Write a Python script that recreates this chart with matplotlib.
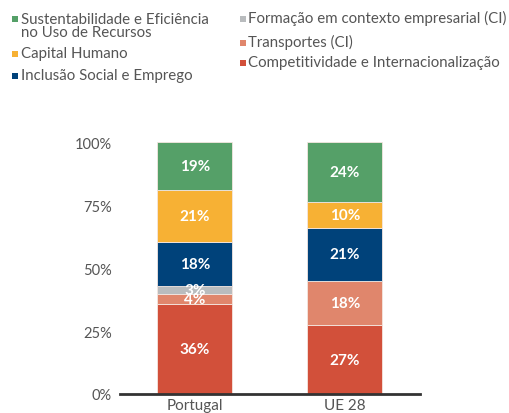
import numpy as np
import matplotlib.pyplot as plt
from matplotlib.patches import Rectangle

plt.rcParams['font.family'] = ['Lato', 'DejaVu Sans']

countries = ["Portugal", "UE 28"]
series = ["Competitividade e Internacionalização",
          "Transportes (CI)",
          "Formação em contexto empresarial (CI)",
          "Inclusão Social e Emprego",
          "Capital Humano",
          "Sustentabilidade e Eficiência\nno Uso de Recursos"]
colors = ["#D2503A", "#E0866C", "#B9BCBE", "#00427A", "#F7B134", "#55A068"]

# share of each axis (bottom -> top)
portugal = [35.8, 3.9, 3.1, 17.5, 20.9, 18.8]
ue28 = [27.4, 17.6, 0.0, 21.0, 10.2, 23.8]
labels_pt = ["36%", "4%", "3%", "18%", "21%", "19%"]
labels_ue = ["27%", "18%", "", "21%", "10%", "24%"]

W, H = 510, 414
fig = plt.figure(figsize=(W / 100, H / 100), dpi=100)
ax = fig.add_axes([120 / W, 19 / H, 300 / W, 251.7 / H])

x = np.arange(len(countries))
data = np.array([portugal, ue28]).T
labels = np.array([labels_pt, labels_ue]).T
bottom = np.zeros(len(countries))
for vals, lab, c in zip(data, labels, colors):
    bars = ax.bar(x, vals, 0.5, bottom=bottom, color=c, edgecolor="#f4e6e0", linewidth=0.6)
    ax.bar_label(bars, labels=list(lab), label_type="center", color="white",
                 fontweight="bold", fontsize=11)
    bottom += vals

ax.set_xlim(-0.5, 1.5)
ax.set_ylim(0, 100)
ax.set_yticks([0, 25, 50, 75, 100])
ax.set_yticklabels(["0%", "25%", "50%", "75%", "100%"])
ax.set_xticks(x)
ax.set_xticklabels(countries)
ax.tick_params(length=0, labelcolor="#555555")
ax.tick_params(axis="y", pad=6, labelsize=10.5)
ax.tick_params(axis="x", pad=3, labelsize=11)
for s in ["top", "right", "left"]:
    ax.spines[s].set_visible(False)
ax.spines["bottom"].set_color("#333333")
ax.spines["bottom"].set_linewidth(2)
ax.spines["bottom"].set_zorder(5)

# legend drawn by hand: marker x, text x, marker baseline, text (last line) baseline
legend_pos = {5: (12, 21, 23, 37), 4: (12, 21, 58, 58), 3: (12, 21, 80, 80),
              2: (240, 248, 23, 23), 1: (240, 248, 47, 47), 0: (240, 248, 67, 67)}
for i, (mx, tx, my, ty) in legend_pos.items():
    fig.add_artist(Rectangle((mx / W, 1 - my / H), 6 / W, 6 / H,
                             transform=fig.transFigure, color=colors[i], lw=0))
    fig.text(tx / W, 1 - ty / H, series[i], fontsize=10.8, color="#555555",
             va="baseline", ha="left", linespacing=0.95)

fig.savefig("out.png", dpi=100)
